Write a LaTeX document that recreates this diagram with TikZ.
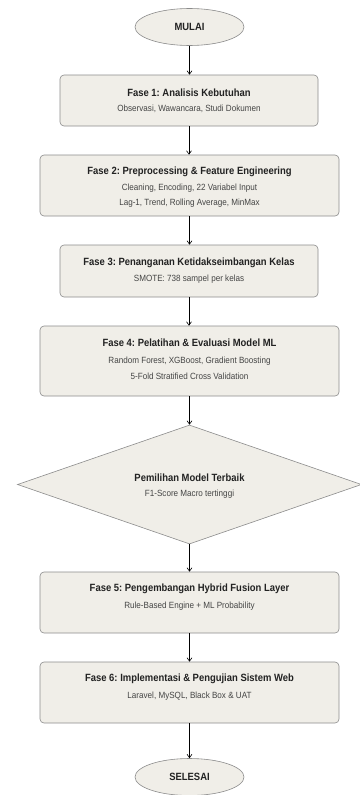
\documentclass[tikz,border=0pt]{standalone}
\usepackage{fontspec}
\usetikzlibrary{shapes.geometric,arrows.meta}
\newfontfamily\tfam[FakeStretch=0.9]{Liberation Sans}
\frenchspacing
\definecolor{boxfill}{HTML}{F0EEE8}
\definecolor{boxline}{HTML}{8C8C8C}
\definecolor{ttlcol}{HTML}{222222}
\definecolor{subcol}{HTML}{444444}
\begin{document}
\begin{tikzpicture}[x=1pt,y=-1pt,
  box/.style={draw=boxline,fill=boxfill,line width=0.6pt,rounded corners=4pt,inner sep=0pt},
  term/.style={ellipse,draw=boxline,fill=boxfill,line width=0.6pt,inner sep=0pt,minimum width=109pt,minimum height=37pt,font=\tfam\bfseries\fontsize{10.5}{12}\selectfont\frenchspacing,text=ttlcol},
  dec/.style={diamond,draw=boxline,fill=boxfill,line width=0.6pt,inner sep=0pt,minimum width=344pt,minimum height=119pt},
  ttl/.style={inner sep=0pt,font=\tfam\bfseries\fontsize{10.5}{12}\selectfont\frenchspacing,text=ttlcol},
  sub/.style={inner sep=0pt,font=\tfam\fontsize{9}{11}\selectfont\frenchspacing,text=subcol},
  flow/.style={draw=black,line width=0.6pt,-{Straight Barb[length=3.5pt,width=5pt]}}
]
\useasboundingbox (0,0) rectangle (359,795);
\fill[white] (0,0) rectangle (359,795);

\node[term] (start) at (189.5,27) {MULAI};

\node[box,minimum width=258pt,minimum height=51pt] (f1) at (189,100.5) {};
\node[ttl] (f1t) at (189,93) {Fase 1: Analisis Kebutuhan};
\node[sub] (f1s) at (189,109) {Observasi, Wawancara, Studi Dokumen};

\node[box,minimum width=299pt,minimum height=61pt] (f2) at (189.5,185.5) {};
\node[ttl] (f2t) at (189.5,172) {Fase 2: Preprocessing \& Feature Engineering};
\node[sub] (f2s) at (189.5,188) {Cleaning, Encoding, 22 Variabel Input};
\node[sub] (f2u) at (189.5,203) {Lag-1, Trend, Rolling Average, MinMax};

\node[box,minimum width=258pt,minimum height=52pt] (f3) at (189,271) {};
\node[ttl] (f3t) at (189,263) {Fase 3: Penanganan Ketidakseimbangan Kelas};
\node[sub] (f3s) at (189,279) {SMOTE: 738 sampel per kelas};

\node[box,minimum width=299pt,minimum height=70pt] (f4) at (189.5,361) {};
\node[ttl] (f4t) at (189.5,343) {Fase 4: Pelatihan \& Evaluasi Model ML};
\node[sub] (f4s) at (189.5,361) {Random Forest, XGBoost, Gradient Boosting};
\node[sub] (f4u) at (189.5,376) {5-Fold Stratified Cross Validation};

\node[dec] (d) at (189.5,484.5) {};
\node[ttl] (dt) at (189.5,478) {Pemilihan Model Terbaik};
\node[sub] (ds) at (189.5,494) {F1-Score Macro tertinggi};

\node[box,minimum width=299pt,minimum height=61pt] (f5) at (189.5,602.5) {};
\node[ttl] (f5t) at (189.5,589) {Fase 5: Pengembangan Hybrid Fusion Layer};
\node[sub] (f5s) at (189.5,606) {Rule-Based Engine + ML Probability};

\node[box,minimum width=299pt,minimum height=61pt] (f6) at (189.5,692.5) {};
\node[ttl] (f6t) at (189.5,679) {Fase 6: Implementasi \& Pengujian Sistem Web};
\node[sub] (f6s) at (189.5,696) {Laravel, MySQL, Black Box \& UAT};

\node[term] (end) at (189.5,777) {SELESAI};

\draw[flow] (start.south) -- (start.south |- f1.north);
\draw[flow] (f1.south) -- (f1.south |- f2.north);
\draw[flow] (f2.south) -- (f2.south |- f3.north);
\draw[flow] (f3.south) -- (f3.south |- f4.north);
\draw[flow] (f4.south) -- (d.north);
\draw[flow] (d.south) -- (f5.north);
\draw[flow] (f5.south) -- (f6.north);
\draw[flow] (f6.south) -- (end.north);
\end{tikzpicture}
\end{document}
